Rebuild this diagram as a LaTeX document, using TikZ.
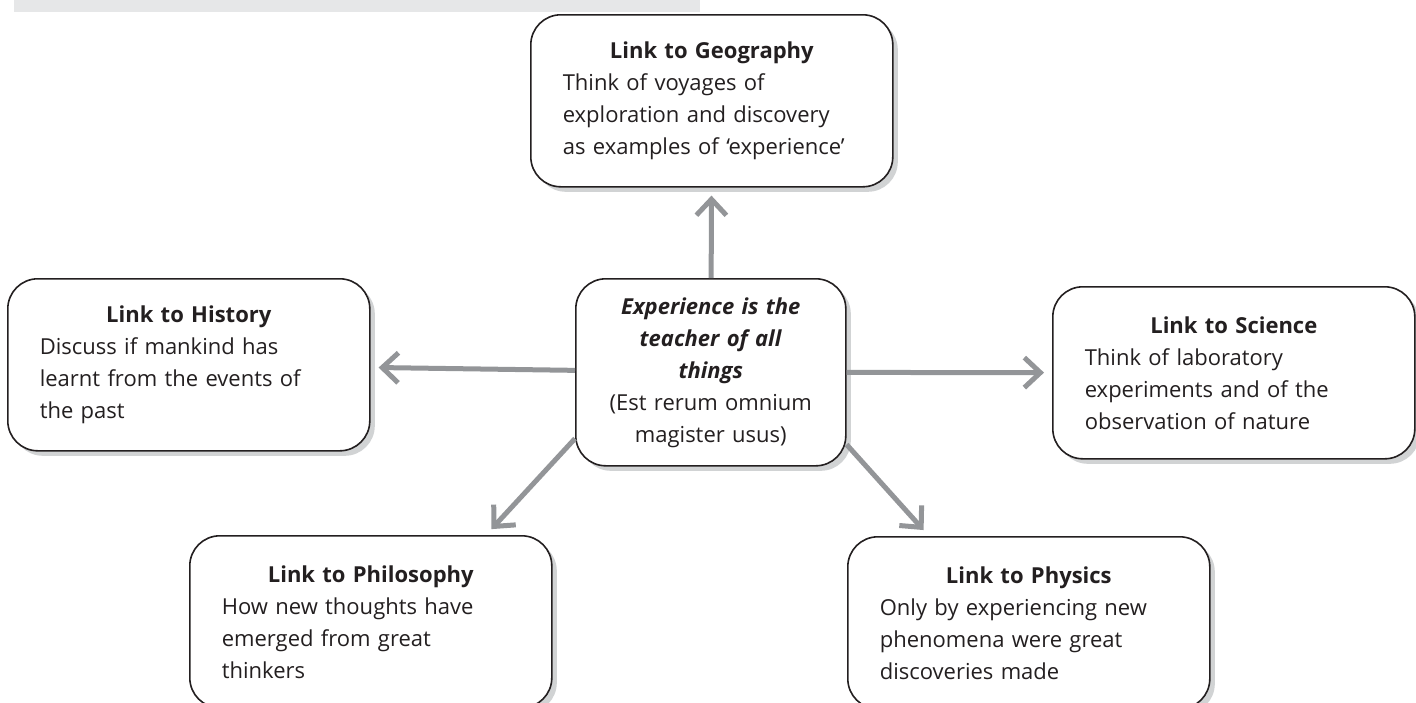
\documentclass[tikz,border=0pt]{standalone}
\usepackage{fontspec}
\setmainfont{Open Sans}
\usetikzlibrary{arrows.meta,positioning,shadows}

\definecolor{arrowgray}{HTML}{939598}
\definecolor{shadowgray}{HTML}{D1D3D4}
\definecolor{bargray}{HTML}{E6E7E8}
\definecolor{inkblack}{HTML}{231F20}

\newcommand\linktitle[1]{{\centering\bfseries #1\par}}

\tikzset{
  linkbox/.style={draw=inkblack, line width=0.8pt, rounded corners=15pt, fill=white,
    align=left, text width=149pt, inner xsep=16pt, inner ysep=0pt,
    minimum height=86pt, anchor=north west, text=inkblack,
    font=\fontsize{11}{16}\selectfont,
    drop shadow={shadow xshift=2.5pt, shadow yshift=-2.5pt, fill=shadowgray, opacity=1}},
  hubbox/.style={linkbox, align=center, text width=125pt, inner xsep=5pt,
    minimum height=93.5pt},
  linkarrow/.style={draw=arrowgray, line width=2.5pt, line join=miter,
    -{Straight Barb[length=8pt,width=15pt]}, shorten >=4pt}
}

\begin{document}
\begin{tikzpicture}[x=0.5pt,y=-0.5pt]
	\useasboundingbox (0,0) rectangle (1416,702);
	\fill[bargray] (14,0) rectangle (700,12);

	\node[hubbox]  (center)      at (575,278)  {\textbf{\textit{Experience is the}}\\ \textbf{\textit{teacher of all}}\\ \textbf{\textit{things}}\\ (Est rerum omnium\\ magister usus)};
	\node[linkbox] (geography)   at (530,14)   {\linktitle{Link to Geography}Think of voyages of\\ exploration and discovery\\ as examples of `experience'};
	\node[linkbox] (history)     at (7,278)    {\linktitle{Link to History}Discuss if mankind has\\ learnt from the events of\\ the past};
	\node[linkbox] (science)     at (1052,286) {\linktitle{Link to Science}Think of laboratory\\ experiments and of the\\ observation of nature};
	\node[linkbox] (philosophy)  at (189,535)  {\linktitle{Link to Philosophy}How new thoughts have\\ emerged from great\\ thinkers};
	\node[linkbox] (physics)     at (847,536)  {\linktitle{Link to Physics}Only by experiencing new\\ phenomena were great\\ discoveries made};

	\draw[linkarrow] (center) -- (geography);
	\draw[linkarrow] (center) -- (history);
	\draw[linkarrow] (center) -- (science);
	\draw[linkarrow] (center.206) -- (philosophy.37);
	\draw[linkarrow] (center.332) -- (physics.139);
\end{tikzpicture}
\end{document}
